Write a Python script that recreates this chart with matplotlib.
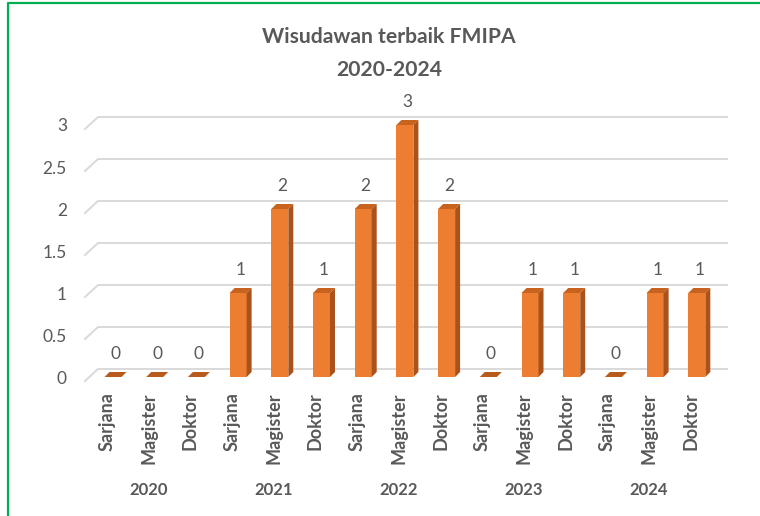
import matplotlib
matplotlib.use("Agg")
import matplotlib.pyplot as plt
from matplotlib.patches import Polygon
from matplotlib.lines import Line2D

tahun = ["2020", "2021", "2022", "2023", "2024"]
jenjang = ["Sarjana", "Magister", "Doktor"]
jumlah = [0, 0, 0,
          1, 2, 1,
          2, 3, 2,
          0, 1, 1,
          0, 1, 1]

W, H = 760, 516
fig = plt.figure(figsize=(W / 100, H / 100), dpi=100)
plt.rcParams['font.family'] = ['Lato', 'DejaVu Sans']

# plot area in pixels
left, right, top, bottom = 85, 730, 110, 380
ax = fig.add_axes([left / W, 1 - bottom / H, (right - left) / W, (bottom - top) / H])
px_x = 41.7   # pixels per category
px_y = 84.0   # pixels per unit value
x0 = 107      # pixel of first category
y0 = 377      # pixel of value 0
ax.set_xlim((left - x0) / px_x, (right - x0) / px_x)
ax.set_ylim((y0 - bottom) / px_y, (y0 - top) / px_y)
for s in ax.spines.values():
    s.set_visible(False)

abu = "#595959"
depan = "#ED7D31"
samping = "#A9521B"
atas = "#C8631F"

# grid lines (back wall with slanted left end)
for v in [0, 0.5, 1, 1.5, 2, 2.5, 3]:
    xs = [(85 - x0) / px_x, (98 - x0) / px_x, (727 - x0) / px_x]
    ys = [v - 4 / px_y, v + 8 / px_y, v + 8 / px_y]
    ax.plot(xs, ys, color="#D9D9D9", lw=1.4, zorder=0, clip_on=False)

n = len(jumlah)
pos = list(range(n))
geser = 6 / px_x
lebar = 17 / px_x
dx, dy = 5 / px_x, 5 / px_y
pusat = [p + geser for p in pos]
ax.bar(pusat, jumlah, width=lebar, color=depan, zorder=2)
for c, v in zip(pusat, jumlah):
    l, r = c - lebar / 2, c + lebar / 2
    ax.add_patch(Polygon([(l, v), (r, v), (r + dx, v + dy), (l + dx, v + dy)],
                         closed=True, color=atas if v > 0 else "#B85A1C", zorder=3, lw=0))
    if v > 0:
        ax.add_patch(Polygon([(r, 0), (r + dx, dy), (r + dx, v + dy), (r, v)],
                             closed=True, color=samping, zorder=3, lw=0))
    ax.text(c + dx / 2, v + 15 / px_y, str(v), ha="center", va="bottom",
            fontsize=12.5, color=abu)

ax.set_yticks([0, 0.5, 1, 1.5, 2, 2.5, 3])
ax.set_yticklabels(["0", "0.5", "1", "1.5", "2", "2.5", "3"])
ax.tick_params(axis="y", length=0, pad=13, labelsize=12.5, labelcolor=abu)
ax.set_xticks(pos)
ax.set_xticklabels(jenjang * len(tahun), rotation=90, fontweight="bold")
ax.tick_params(axis="x", length=0, pad=9, labelsize=13, labelcolor=abu)

# year labels under each group
for k, t in enumerate(tahun):
    ax.text(3 * k + 1, (y0 - 490) / px_y, t, ha="center", va="center",
            fontsize=12, fontweight="bold", color=abu)

fig.text(389 / W, 1 - 37 / H, "Wisudawan terbaik FMIPA", ha="center", va="center",
         fontsize=15.2, fontweight="bold", color=abu)
fig.text(389 / W, 1 - 70 / H, "2020-2024", ha="center", va="center",
         fontsize=15.2, fontweight="bold", color=abu)

# green border
fig.add_artist(Line2D([8 / W, 8 / W, 1], [0, 1 - 3 / H, 1 - 3 / H],
                      transform=fig.transFigure, color="#00B050", lw=1.6))

fig.savefig("out.png", dpi=100)
